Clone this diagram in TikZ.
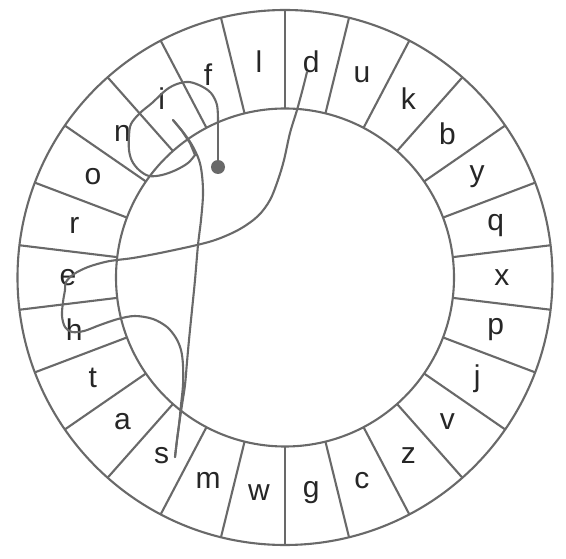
\documentclass[tikz,border=0pt]{standalone}
\usepackage{fontspec}
\setmainfont{Liberation Sans}
\definecolor{ln}{RGB}{105,105,105}
\begin{document}
\begin{tikzpicture}[x=1pt,y=-1pt,
  ring/.style={draw=ln, line width=2.1pt},
  trace/.style={draw=ln, line width=2.1pt, line join=round, line cap=round},
  lett/.style={font=\fontsize{30}{30}\selectfont, text=black!85, inner sep=0pt}]
\useasboundingbox (0,0) rectangle (566,559);
\fill[white] (0,0) rectangle (566,559);
\begin{scope}[shift={(285,277.5)}, y=1pt]
  \draw[ring] (0,0) circle[radius=267.5];
  \draw[ring] (0,0) circle[radius=169];
  \foreach \k in {0,...,25} {
    \draw[ring] ({90+\k*360/26}:169) -- ({90+\k*360/26}:267.5);
  }
  \foreach \ch [count=\i from 0] in {d,u,k,b,y,q,x,p,j,v,z,c,g,w,m,s,a,t,h,e,r,o,n,i,f,l} {
    \node[lett] (let\ch) at ({83.077-\i*13.846}:217) {\ch};
  }
\end{scope}
% start dot
\node[circle, fill=ln, minimum size=14pt, inner sep=0pt] (start) at (218,167) {};
\coordinate (entry) at (218,122);
\draw[trace] (start) -- (entry);
% f -> i -> n -> back
\draw[trace] plot[smooth, tension=0.55] coordinates {
  (218,122) (217,105) (211,93) (201,86) (189,82) (177,84) (166,90)
  (152,103) (140,113) (131,124) (129,136) (129,150) (132,161) (139,170)
  (149,176) (162,175) (176,170) (188,163) (195,155)};
\draw[trace] (195,155) -- (190,143) -- (182,131) -- (173,120);
% i -> s
\draw[trace] plot[smooth, tension=0.55] coordinates {
  (173,120) (183,132) (192,145) (199,160) (202,175) (203,195) (201,220)
  (198,245) (195,280) (192,310) (189,340) (187,362) (185,385) (182,405)
  (179,425) (177,440) (175,457)};
% s -> h -> e -> d
\draw[trace] plot[smooth, tension=0.55] coordinates {
  (175,457) (177,440) (179,425) (181,405) (183,385) (183,365) (181,350)
  (176,338) (167,327) (153,319) (135,316) (118,319) (100,325) (84,331)
  (72,332) (65,327) (62,316) (63,302) (65,290) (66,282) (74,274) (88,267)
  (105,262) (117,260) (133,258) (160,253) (197,245) (218,239) (240,229)
  (258,216) (270,200) (278,180) (284,160) (290,133) (297,110) (303,88)
  (307,72)};
\end{tikzpicture}
\end{document}
